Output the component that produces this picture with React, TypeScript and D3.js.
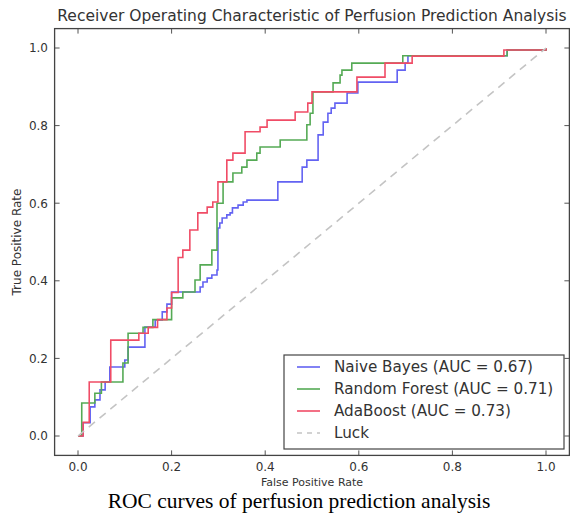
import React from "react";
import * as d3 from "d3";

const ticks = [0.0, 0.2, 0.4, 0.6, 0.8, 1.0];
const tickLabels = ["0.0", "0.2", "0.4", "0.6", "0.8", "1.0"];

const nbFpr = [0, 0.011, 0.026, 0.036, 0.047, 0.058, 0.068, 0.1, 0.107, 0.143, 0.165, 0.18, 0.19, 0.2, 0.261, 0.267, 0.276, 0.286, 0.297, 0.299, 0.303, 0.308, 0.318, 0.325, 0.33, 0.342, 0.353, 0.361, 0.427, 0.479, 0.489, 0.513, 0.524, 0.534, 0.541, 0.549, 0.575, 0.598, 0.682, 0.699, 0.705, 0.917, 1.0];
const nbTpr = [0, 0.034, 0.075, 0.093, 0.119, 0.139, 0.178, 0.196, 0.229, 0.281, 0.299, 0.32, 0.34, 0.371, 0.384, 0.397, 0.407, 0.415, 0.428, 0.536, 0.549, 0.562, 0.57, 0.575, 0.588, 0.595, 0.603, 0.608, 0.655, 0.693, 0.711, 0.776, 0.809, 0.832, 0.845, 0.858, 0.884, 0.912, 0.943, 0.961, 0.98, 0.995, 1.0];

const rfFpr = [0, 0.008, 0.036, 0.05, 0.096, 0.107, 0.139, 0.16, 0.2, 0.224, 0.25, 0.261, 0.286, 0.297, 0.31, 0.331, 0.35, 0.361, 0.382, 0.389, 0.432, 0.489, 0.496, 0.502, 0.545, 0.56, 0.564, 0.585, 0.694, 0.917, 1.0];
const rfTpr = [0, 0.085, 0.11, 0.139, 0.188, 0.265, 0.28, 0.3, 0.356, 0.371, 0.402, 0.441, 0.479, 0.6, 0.655, 0.678, 0.693, 0.711, 0.729, 0.745, 0.763, 0.802, 0.832, 0.887, 0.91, 0.93, 0.943, 0.961, 0.98, 0.995, 1.0];

const abFpr = [0, 0.011, 0.024, 0.07, 0.13, 0.15, 0.17, 0.19, 0.2, 0.214, 0.224, 0.239, 0.256, 0.276, 0.288, 0.299, 0.318, 0.331, 0.357, 0.389, 0.404, 0.464, 0.491, 0.5, 0.596, 0.656, 0.714, 0.91, 1.0];
const abTpr = [0, 0.035, 0.139, 0.247, 0.265, 0.28, 0.3, 0.33, 0.37, 0.46, 0.479, 0.531, 0.575, 0.59, 0.603, 0.655, 0.711, 0.729, 0.784, 0.796, 0.814, 0.835, 0.858, 0.887, 0.925, 0.961, 0.979, 0.995, 1.0];

const luckFpr = [0, 1];
const luckTpr = [0, 1];

const seriesNames = ["Naive Bayes (AUC = 0.67)", "Random Forest (AUC = 0.71)", "AdaBoost (AUC = 0.73)", "Luck"];
const seriesColors = ["#6363f2", "#55aa55", "#f04c66", "#c4c4c4"];

const titleText = "Receiver Operating Characteristic of Perfusion Prediction Analysis";
const xLabel = "False Positive Rate";
const yLabel = "True Positive Rate";
const caption = "ROC curves of perfusion prediction analysis";

export default function App() {
  const W = 570, H = 514;
  const L = 54.6, R = 569.4, T = 28.6, B = 455.4;
  const x = d3.scaleLinear().domain([-0.05, 1.05]).range([L, R]);
  const y = d3.scaleLinear().domain([-0.05, 1.05]).range([B, T]);
  const font = "'DejaVu Sans', sans-serif";

  const stepLine = d3.line<[number, number]>().x(d => x(d[0])).y(d => y(d[1])).curve(d3.curveStepAfter);
  const straight = d3.line<[number, number]>().x(d => x(d[0])).y(d => y(d[1]));
  const zip = (a: number[], b: number[]) => a.map((v, i) => [v, b[i]] as [number, number]);

  const curves = [
    { d: stepLine(zip(nbFpr, nbTpr)), c: seriesColors[0] },
    { d: stepLine(zip(rfFpr, rfTpr)), c: seriesColors[1] },
    { d: stepLine(zip(abFpr, abTpr)), c: seriesColors[2] },
  ];

  const legL = 284, legT = 355, legR = 564, legB = 449;
  const rowY = [367, 389, 411, 433];
  const tickLen = 5;

  return (
    <svg width={W} height={H} style={{ position: "absolute", left: 0, top: 0, background: "#fff" }}>
      <rect x={0} y={0} width={W} height={H} fill="#fff" />
      <text x={312} y={21} textAnchor="middle" fontFamily={font} fontSize={15.5} fill="#333">{titleText}</text>
      <defs>
        <clipPath id="plotclip"><rect x={L} y={T} width={R - L} height={B - T} /></clipPath>
      </defs>
      <g clipPath="url(#plotclip)">
        {curves.map((cv, i) => (
          <path key={i} d={cv.d || ""} fill="none" stroke={cv.c} strokeWidth={1.6} />
        ))}
        <path d={straight(zip(luckFpr, luckTpr)) || ""} fill="none" stroke={seriesColors[3]} strokeWidth={1.6} strokeDasharray="8,6" />
      </g>
      {ticks.map((t, i) => (
        <g key={"t" + i} stroke="#555" strokeWidth={1}>
          <line x1={x(t)} x2={x(t)} y1={B} y2={B - tickLen} />
          <line x1={x(t)} x2={x(t)} y1={T} y2={T + tickLen} />
          <line x1={L} x2={L + tickLen} y1={y(t)} y2={y(t)} />
          <line x1={R} x2={R - tickLen} y1={y(t)} y2={y(t)} />
        </g>
      ))}
      <rect x={L} y={T} width={R - L} height={B - T} fill="none" stroke="#444" strokeWidth={1.3} />
      {ticks.map((t, i) => (
        <text key={"xl" + i} x={x(t)} y={470.5} textAnchor="middle" fontFamily={font} fontSize={12} fill="#333">{tickLabels[i]}</text>
      ))}
      {ticks.map((t, i) => (
        <text key={"yl" + i} x={48} y={y(t) + 4.3} textAnchor="end" fontFamily={font} fontSize={12} fill="#333">{tickLabels[i]}</text>
      ))}
      <text x={(L + R) / 2} y={486} textAnchor="middle" fontFamily={font} fontSize={11} fill="#333">{xLabel}</text>
      <text transform={`translate(21,${(T + B) / 2}) rotate(-90)`} textAnchor="middle" fontFamily={font} fontSize={12} fill="#333">{yLabel}</text>
      <rect x={legL} y={legT} width={legR - legL} height={legB - legT} fill="#fff" stroke="#444" strokeWidth={1.2} />
      {seriesNames.map((n, i) => (
        <g key={"lg" + i}>
          <line x1={297} x2={320} y1={rowY[i]} y2={rowY[i]} stroke={seriesColors[i]} strokeWidth={1.6} strokeDasharray={i === 3 ? "5,5" : undefined} />
          <text x={334} y={rowY[i] + 5} fontFamily={font} fontSize={15.2} fill="#333">{n}</text>
        </g>
      ))}
      <text x={299} y={508} textAnchor="middle" fontFamily="'Liberation Serif', 'Times New Roman', serif" fontSize={21.5} fill="#000">{caption}</text>
    </svg>
  );
}
